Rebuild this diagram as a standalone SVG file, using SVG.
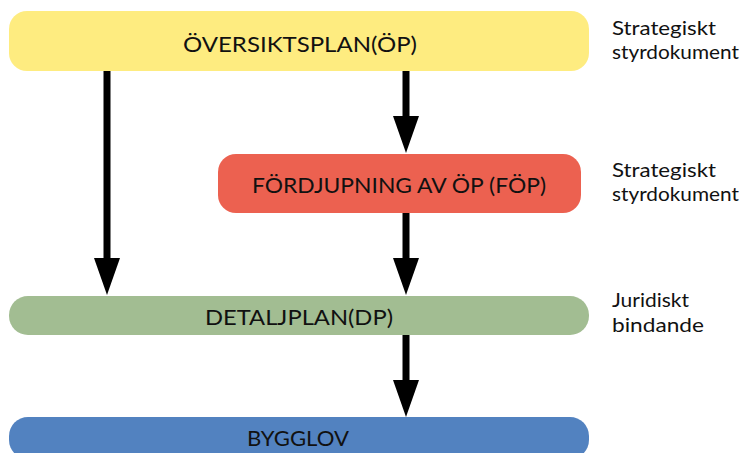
<svg xmlns="http://www.w3.org/2000/svg" width="746" height="453" viewBox="0 0 746 453">
<style>
.lbl{font-family:Lato,"Open Sans","Liberation Sans",sans-serif;font-size:22px;fill:#111;text-anchor:middle}
.side{font-family:Lato,"Open Sans","Liberation Sans",sans-serif;font-size:19px;fill:#111}
.shaft{stroke:#000;stroke-width:7;fill:none;marker-end:url(#ah)}
</style>
<defs>
<marker id="ah" markerUnits="userSpaceOnUse" markerWidth="37" markerHeight="26" refX="0" refY="13" orient="auto" viewBox="0 0 37 26">
<path d="M0,0 L37,13 L0,26 Z" fill="#000"/>
</marker>
</defs>
<rect width="746" height="453" fill="#fff"/>
<g id="connectors">
<line class="shaft" x1="107" y1="71" x2="107" y2="258"/>
<line class="shaft" x1="406" y1="71" x2="406" y2="116"/>
<line class="shaft" x1="406" y1="213" x2="406" y2="258"/>
<line class="shaft" x1="406" y1="335" x2="406" y2="380"/>
</g>
<g id="op">
<rect x="9" y="11" width="580" height="60" rx="18" fill="#FEEC80"/>
<text class="lbl" x="300" y="52" textLength="234" lengthAdjust="spacingAndGlyphs">ÖVERSIKTSPLAN(ÖP)</text>
</g>
<g id="fop">
<rect x="218" y="154" width="363" height="59" rx="18" fill="#EC6150"/>
<text class="lbl" x="399" y="193" textLength="294" lengthAdjust="spacingAndGlyphs">FÖRDJUPNING AV ÖP (FÖP)</text>
</g>
<g id="dp">
<rect x="9" y="296" width="580" height="39" rx="19" fill="#A2BD92"/>
<text class="lbl" x="299" y="325" textLength="188" lengthAdjust="spacingAndGlyphs">DETALJPLAN(DP)</text>
</g>
<g id="bygglov">
<rect x="9" y="417" width="580" height="42" rx="19" fill="#5282C0"/>
<text class="lbl" x="298" y="446" textLength="102" lengthAdjust="spacingAndGlyphs">BYGGLOV</text>
</g>
<g id="notes">
<text class="side" x="612" y="35" textLength="104" lengthAdjust="spacingAndGlyphs">Strategiskt</text>
<text class="side" x="612" y="59" textLength="127" lengthAdjust="spacingAndGlyphs">styrdokument</text>
<text class="side" x="612" y="177" textLength="104" lengthAdjust="spacingAndGlyphs">Strategiskt</text>
<text class="side" x="612" y="201" textLength="127" lengthAdjust="spacingAndGlyphs">styrdokument</text>
<text class="side" x="612" y="307" textLength="77" lengthAdjust="spacingAndGlyphs">Juridiskt</text>
<text class="side" x="612" y="332" textLength="92" lengthAdjust="spacingAndGlyphs">bindande</text>
</g>
</svg>
